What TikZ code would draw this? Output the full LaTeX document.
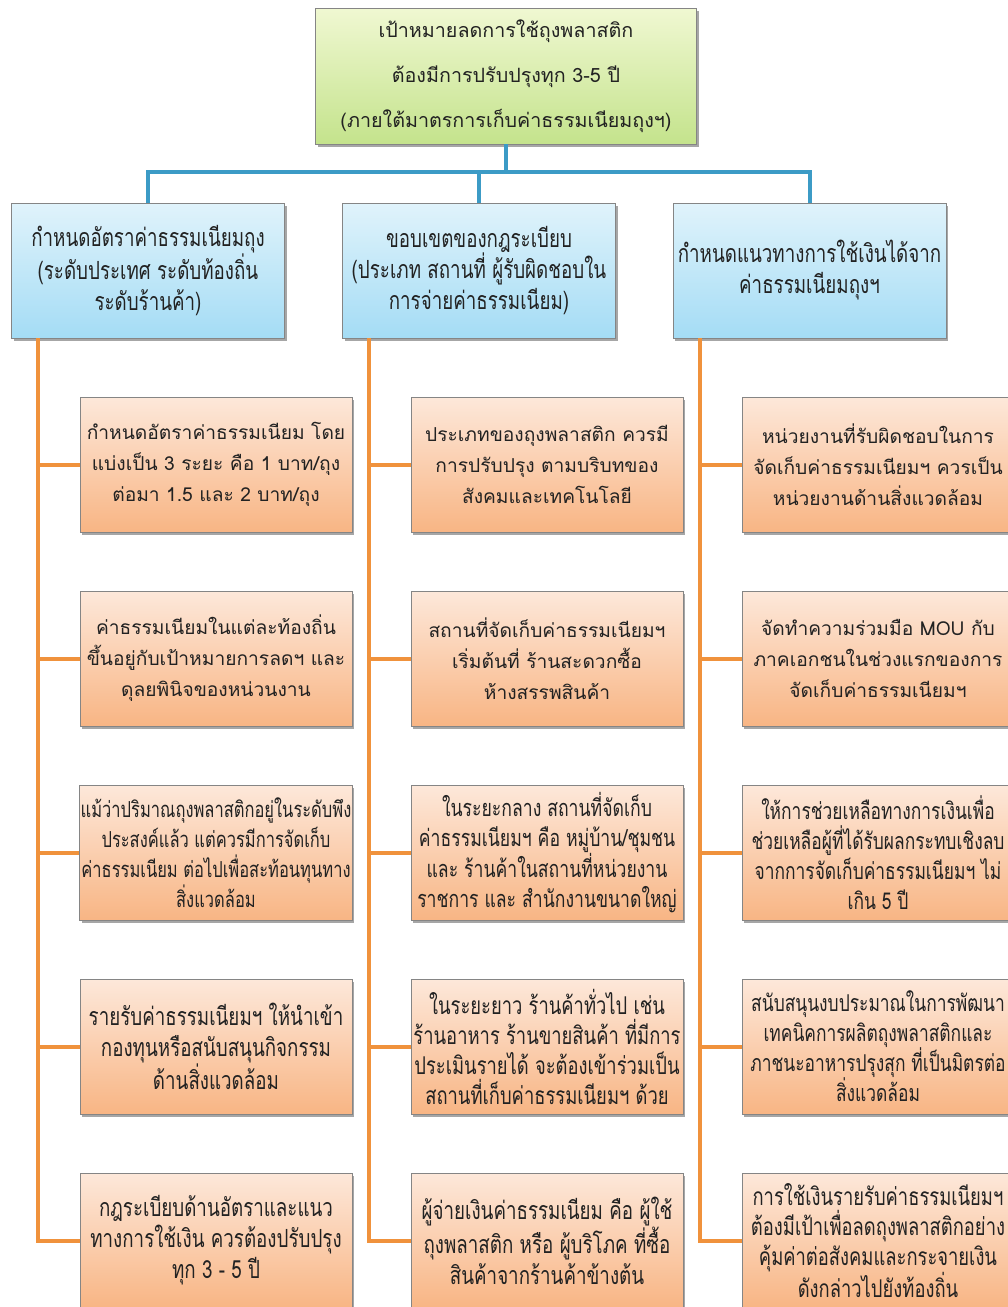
\documentclass[tikz,border=0pt]{standalone}
\usepackage{fontspec}
\usetikzlibrary{shadows,calc}
\newfontfamily\thaifont[Script=Thai]{Loma}
\newfontfamily\thaicond[Script=Thai,FakeStretch=0.75]{Loma}
\definecolor{bluec}{HTML}{3C9BC6}
\definecolor{orc}{HTML}{F0923C}
\definecolor{gtop}{HTML}{F0F8D2}
\definecolor{gbot}{HTML}{C4E38C}
\definecolor{btop}{HTML}{E0F3FB}
\definecolor{bbot}{HTML}{A4DCF5}
\definecolor{otop}{HTML}{FDE8DA}
\definecolor{obot}{HTML}{F8B584}
\definecolor{edge}{HTML}{858585}
\definecolor{txt}{HTML}{222222}
\tikzset{
  card/.style={draw=edge, line width=0.8pt, minimum height=135pt, inner sep=1pt,
    align=center, text=txt,
    drop shadow={shadow xshift=2pt, shadow yshift=-3pt, fill=black, opacity=0.35}},
  goalbox/.style={card, top color=gtop, bottom color=gbot, minimum width=381pt,
    minimum height=136pt, font=\fontsize{19.7}{45}\selectfont\thaifont},
  headbox/.style={card, top color=btop, bottom color=bbot, minimum width=273pt,
    font=\fontsize{25}{31}\selectfont\thaicond},
  leafbox/.style={card, top color=otop, bottom color=obot, minimum width=272pt,
    font=\fontsize{19.2}{31}\selectfont\thaifont},
  condbox/.style={leafbox, font=\fontsize{25}{31}\selectfont\thaicond},
  condfour/.style={leafbox, font=\fontsize{24.5}{30}\selectfont\thaicond},
  busline/.style={draw=bluec, line width=4pt},
  trunk/.style={draw=orc, line width=4pt},
}
\begin{document}
\begin{tikzpicture}[x=1pt,y=-1pt]
\useasboundingbox[fill=white] (0,0) rectangle (1008,1307);

% goal
\node[goalbox] (goal) at (506,76) {เป้าหมายลดการใช้ถุงพลาสติก\\ต้องมีการปรับปรุงทุก 3-5 ปี\\(ภายใต้มาตรการเก็บค่าธรรมเนียมถุงฯ)};

% three headings
\node[headbox] (hL) at (148,270.5) {กำหนดอัตราค่าธรรมเนียมถุง\\(ระดับประเทศ ระดับท้องถิ่น\\ระดับร้านค้า)};
\node[headbox] (hM) at (479,270.5) {ขอบเขตของกฎระเบียบ\\(ประเภท สถานที่ ผู้รับผิดชอบใน\\การจ่ายค่าธรรมเนียม)};
\node[headbox] (hR) at (809.5,270.5) {กำหนดแนวทางการใช้เงินได้จาก\\ค่าธรรมเนียมถุงฯ};

% left column
\node[leafbox] (L1) at (216,464.5) {กำหนดอัตราค่าธรรมเนียม โดย\\แบ่งเป็น 3 ระยะ คือ 1 บาท/ถุง\\ต่อมา 1.5 และ 2 บาท/ถุง};
\node[leafbox] (L2) at (216,658.5) {ค่าธรรมเนียมในแต่ละท้องถิ่น\\ขึ้นอยู่กับเป้าหมายการลดฯ และ\\ดุลยพินิจของหน่วนงาน};
\node[condfour, font=\fontsize{22}{30}\selectfont\thaicond] (L3) at (216,852.5) {แม้ว่าปริมาณถุงพลาสติกอยู่ในระดับพึง\\ประสงค์แล้ว แต่ควรมีการจัดเก็บ\\ค่าธรรมเนียม ต่อไปเพื่อสะท้อนทุนทาง\\สิ่งแวดล้อม};
\node[condbox] (L4) at (216,1046.5) {รายรับค่าธรรมเนียมฯ ให้นำเข้า\\กองทุนหรือสนับสนุนกิจกรรม\\ด้านสิ่งแวดล้อม};
\node[condbox] (L5) at (216,1240.5) {กฎระเบียบด้านอัตราและแนว\\ทางการใช้เงิน ควรต้องปรับปรุง\\ทุก 3 - 5 ปี};

% middle column
\node[leafbox] (M1) at (547,464.5) {ประเภทของถุงพลาสติก ควรมี\\การปรับปรุง ตามบริบทของ\\สังคมและเทคโนโลยี};
\node[leafbox] (M2) at (547,658.5) {สถานที่จัดเก็บค่าธรรมเนียมฯ\\เริ่มต้นที่ ร้านสะดวกซื้อ\\ห้างสรรพสินค้า};
\node[condfour, font=\fontsize{23.5}{30}\selectfont\thaicond] (M3) at (547,852.5) {ในระยะกลาง สถานที่จัดเก็บ\\ค่าธรรมเนียมฯ คือ หมู่บ้าน/ชุมชน\\และ ร้านค้าในสถานที่หน่วยงาน\\ราชการ และ สำนักงานขนาดใหญ่};
\node[condfour] (M4) at (547,1046.5) {ในระยะยาว ร้านค้าทั่วไป เช่น\\ร้านอาหาร ร้านขายสินค้า ที่มีการ\\ประเมินรายได้ จะต้องเข้าร่วมเป็น\\สถานที่เก็บค่าธรรมเนียมฯ ด้วย};
\node[condbox] (M5) at (547,1240.5) {ผู้จ่ายเงินค่าธรรมเนียม คือ ผู้ใช้\\ถุงพลาสติก หรือ ผู้บริโภค ที่ซื้อ\\สินค้าจากร้านค้าข้างต้น};

% right column
\node[leafbox] (R1) at (878,464.5) {หน่วยงานที่รับผิดชอบในการ\\จัดเก็บค่าธรรมเนียมฯ ควรเป็น\\หน่วยงานด้านสิ่งแวดล้อม};
\node[leafbox] (R2) at (878,658.5) {จัดทำความร่วมมือ MOU กับ\\ภาคเอกชนในช่วงแรกของการ\\จัดเก็บค่าธรรมเนียมฯ};
\node[condfour, font=\fontsize{23.2}{30}\selectfont\thaicond] (R3) at (878,852.5) {ให้การช่วยเหลือทางการเงินเพื่อ\\ช่วยเหลือผู้ที่ได้รับผลกระทบเชิงลบ\\จากการจัดเก็บค่าธรรมเนียมฯ ไม่\\เกิน 5 ปี};
\node[condfour, font=\fontsize{23.2}{30}\selectfont\thaicond] (R4) at (878,1046.5) {สนับสนุนงบประมาณในการพัฒนา\\เทคนิคการผลิตถุงพลาสติกและ\\ภาชนะอาหารปรุงสุก ที่เป็นมิตรต่อ\\สิ่งแวดล้อม};
\node[condfour] (R5) at (878,1240.5) {การใช้เงินรายรับค่าธรรมเนียมฯ\\ต้องมีเป้าเพื่อลดถุงพลาสติกอย่าง\\คุ้มค่าต่อสังคมและกระจายเงิน\\ดังกล่าวไปยังท้องถิ่น};

% blue bus from the goal to the headings
\coordinate (bus) at (0,172);
\draw[busline] (goal.south) -- (goal.south |- bus);
\draw[busline] (hL.north) -- (hL.north |- bus) -- (hR.north |- bus) -- (hR.north);
\draw[busline] (hM.north) -- (hM.north |- bus);

% orange trunks from each heading to its items
\foreach \h/\c in {hL/L, hM/M, hR/R}{
  \coordinate (t\c) at ($(\h.south west)+(27,0)$);
  \draw[trunk] (t\c) |- (\c5.west);
  \foreach \i in {1,2,3,4}{
    \draw[trunk] (t\c |- \c\i.west) -- (\c\i.west);
  }
}
\end{tikzpicture}
\end{document}
